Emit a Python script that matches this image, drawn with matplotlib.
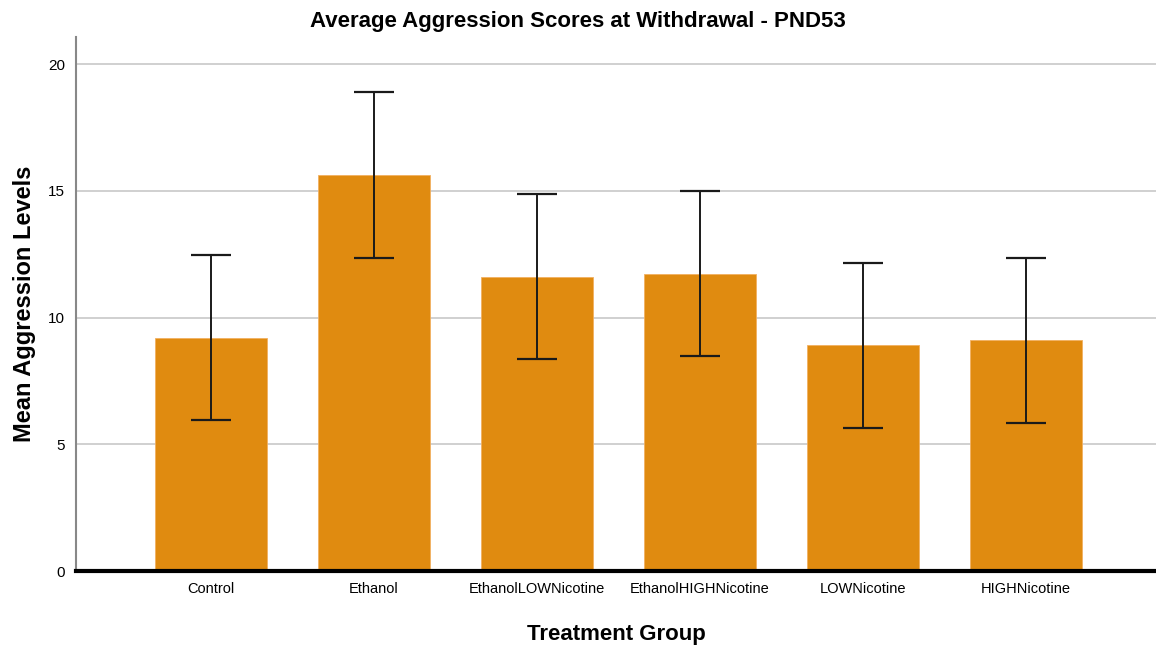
import numpy as np
import matplotlib.pyplot as plt

plt.rcParams['font.family'] = ['Liberation Sans', 'DejaVu Sans']

# data
groups = ["Control", "Ethanol", "EthanolLOWNicotine", "EthanolHIGHNicotine",
          "LOWNicotine", "HIGHNicotine"]
means = [9.19, 15.62, 11.60, 11.72, 8.92, 9.11]
upper = [12.47, 18.90, 14.87, 14.99, 12.15, 12.35]
lower = [5.96, 12.35, 8.36, 8.48, 5.64, 5.84]

x = np.arange(len(groups))
yerr = [np.array(means) - np.array(lower), np.array(upper) - np.array(means)]

fig = plt.figure(figsize=(11.56, 6.48), dpi=100)
ax = fig.add_axes([0.0657, 0.1188, 0.9343, 0.8242])

ax.bar(x, means, width=0.687, color="#E08B10", edgecolor="#F2B060",
       linewidth=0.6, zorder=2)
ax.errorbar(x, means, yerr=yerr, fmt="none", ecolor="#1a1a1a",
            elinewidth=1.4, capsize=14.6, capthick=1.6, zorder=3)

ax.set_xlim(-0.828, 5.80)
ax.set_ylim(0, 21.07)
ax.set_yticks([0, 5, 10, 15, 20])
ax.yaxis.grid(True, color="#c8c8c8", linewidth=1.2, zorder=0)
ax.set_axisbelow(True)

ax.set_xticks(x)
ax.set_xticklabels(groups, fontsize=10.5)
ax.tick_params(axis="x", length=0, pad=8)
ax.tick_params(axis="y", length=0, pad=8, labelsize=11)

for s in ["top", "right"]:
    ax.spines[s].set_visible(False)
ax.spines["left"].set_color("#888888")
ax.spines["left"].set_linewidth(1.5)
ax.spines["bottom"].set_color("black")
ax.spines["bottom"].set_linewidth(3)

fig.suptitle("Average Aggression Scores at Withdrawal - PND53", fontsize=16,
             fontweight="bold", x=0.5, y=0.967, va="center")
ax.set_xlabel("Treatment Group", fontsize=16, fontweight="bold", labelpad=20)
ax.set_ylabel("Mean Aggression Levels", fontsize=17, fontweight="bold")
ax.yaxis.set_label_coords(-0.037, 0.5)

fig.savefig("out.png", dpi=100)
